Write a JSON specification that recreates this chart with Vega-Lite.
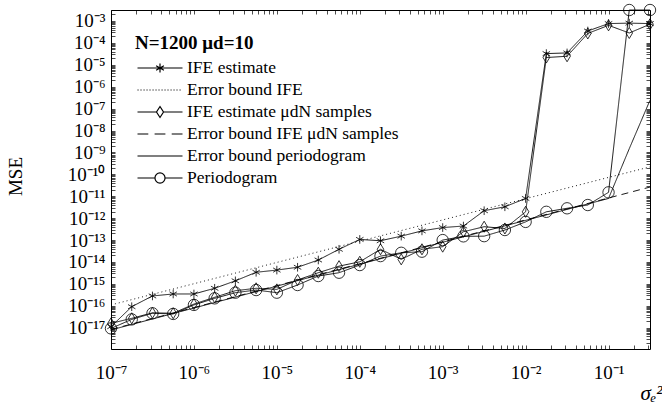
{
  "$schema": "https://vega.github.io/schema/vega-lite/v6.json",
  "width": 539,
  "height": 339,
  "autosize": {"type": "none"},
  "padding": {"left": 111, "top": 10, "right": 12, "bottom": 56},
  "config": {
    "view": {"stroke": "black", "strokeWidth": 1},
    "font": "Liberation Serif",
    "axis": {"grid": false, "domain": false, "tickColor": "black", "tickWidth": 0.7, "tickSize": 4, "offset": -4, "labelFont": "Liberation Serif", "labelFontSize": 19, "labelColor": "black", "titleFont": "Liberation Serif", "titleColor": "black", "titleFontWeight": "normal", "labelOverlap": false, "labelFlush": false},
    "legend": {"labelFont": "Liberation Serif", "titleFont": "Liberation Serif", "labelLimit": 400, "titleLimit": 400}
  },
  "data": {"values": [
    {"s":"IFE estimate","x":1e-7,"y":1.12e-17},{"s":"IFE estimate","x":1.778e-7,"y":9.12e-17},{"s":"IFE estimate","x":3.162e-7,"y":2.82e-16},{"s":"IFE estimate","x":5.623e-7,"y":3.47e-16},{"s":"IFE estimate","x":1e-6,"y":3.47e-16},{"s":"IFE estimate","x":1.778e-6,"y":6.31e-16},{"s":"IFE estimate","x":3.162e-6,"y":1.38e-15},{"s":"IFE estimate","x":5.623e-6,"y":3.39e-15},{"s":"IFE estimate","x":1e-5,"y":4.27e-15},{"s":"IFE estimate","x":1.778e-5,"y":5.75e-15},{"s":"IFE estimate","x":3.162e-5,"y":1.23e-14},{"s":"IFE estimate","x":5.623e-5,"y":3.80e-14},{"s":"IFE estimate","x":1e-4,"y":1.07e-13},{"s":"IFE estimate","x":1.778e-4,"y":9.33e-14},{"s":"IFE estimate","x":3.162e-4,"y":1.51e-13},{"s":"IFE estimate","x":5.623e-4,"y":2.63e-13},{"s":"IFE estimate","x":1e-3,"y":3.72e-13},{"s":"IFE estimate","x":1.778e-3,"y":4.37e-13},{"s":"IFE estimate","x":3.162e-3,"y":2.19e-12},{"s":"IFE estimate","x":5.623e-3,"y":3.31e-12},{"s":"IFE estimate","x":0.01,"y":7.94e-12},{"s":"IFE estimate","x":0.01778,"y":3.24e-5},{"s":"IFE estimate","x":0.03162,"y":3.47e-5},{"s":"IFE estimate","x":0.05623,"y":3.47e-4},{"s":"IFE estimate","x":0.1,"y":7.59e-4},{"s":"IFE estimate","x":0.1778,"y":7.94e-4},{"s":"IFE estimate","x":0.3162,"y":7.59e-4},

    {"s":"Error bound IFE","x":1e-7,"y":1.10e-16},{"s":"Error bound IFE","x":1e-6,"y":1.02e-15},{"s":"Error bound IFE","x":1e-5,"y":9.55e-15},{"s":"Error bound IFE","x":1e-4,"y":8.91e-14},{"s":"Error bound IFE","x":1e-3,"y":8.32e-13},{"s":"Error bound IFE","x":0.01,"y":7.76e-12},{"s":"Error bound IFE","x":0.1,"y":7.24e-11},{"s":"Error bound IFE","x":0.3162,"y":2.19e-10},

    {"s":"IFE estimate μdN samples","x":1e-7,"y":1.58e-17},{"s":"IFE estimate μdN samples","x":1.778e-7,"y":2.69e-17},{"s":"IFE estimate μdN samples","x":3.162e-7,"y":4.79e-17},{"s":"IFE estimate μdN samples","x":5.623e-7,"y":4.57e-17},{"s":"IFE estimate μdN samples","x":1e-6,"y":1.20e-16},{"s":"IFE estimate μdN samples","x":1.778e-6,"y":2.45e-16},{"s":"IFE estimate μdN samples","x":3.162e-6,"y":4.90e-16},{"s":"IFE estimate μdN samples","x":5.623e-6,"y":6.31e-16},{"s":"IFE estimate μdN samples","x":1e-5,"y":5.62e-16},{"s":"IFE estimate μdN samples","x":1.778e-5,"y":1.51e-15},{"s":"IFE estimate μdN samples","x":3.162e-5,"y":3.24e-15},{"s":"IFE estimate μdN samples","x":5.623e-5,"y":6.46e-15},{"s":"IFE estimate μdN samples","x":1e-4,"y":1.02e-14},{"s":"IFE estimate μdN samples","x":1.778e-4,"y":3.80e-14},{"s":"IFE estimate μdN samples","x":3.162e-4,"y":1.32e-14},{"s":"IFE estimate μdN samples","x":5.623e-4,"y":3.80e-14},{"s":"IFE estimate μdN samples","x":1e-3,"y":5.01e-14},{"s":"IFE estimate μdN samples","x":1.778e-3,"y":2.40e-13},{"s":"IFE estimate μdN samples","x":3.162e-3,"y":4.07e-13},{"s":"IFE estimate μdN samples","x":5.623e-3,"y":3.39e-13},{"s":"IFE estimate μdN samples","x":0.01,"y":1.95e-12},{"s":"IFE estimate μdN samples","x":0.01778,"y":2.14e-5},{"s":"IFE estimate μdN samples","x":0.03162,"y":2.45e-5},{"s":"IFE estimate μdN samples","x":0.05623,"y":2.69e-4},{"s":"IFE estimate μdN samples","x":0.1,"y":6.31e-4},{"s":"IFE estimate μdN samples","x":0.1778,"y":2.82e-4},{"s":"IFE estimate μdN samples","x":0.3162,"y":7.08e-4},

    {"s":"Error bound IFE μdN samples","x":1e-7,"y":8.32e-18},{"s":"Error bound IFE μdN samples","x":1e-6,"y":8.32e-17},{"s":"Error bound IFE μdN samples","x":1e-5,"y":8.32e-16},{"s":"Error bound IFE μdN samples","x":1e-4,"y":8.32e-15},{"s":"Error bound IFE μdN samples","x":1e-3,"y":8.32e-14},{"s":"Error bound IFE μdN samples","x":0.01,"y":8.32e-13},{"s":"Error bound IFE μdN samples","x":0.1,"y":8.32e-12},{"s":"Error bound IFE μdN samples","x":0.3162,"y":2.63e-11},

    {"s":"Error bound periodogram","x":1e-7,"y":7.94e-18},{"s":"Error bound periodogram","x":1e-6,"y":7.94e-17},{"s":"Error bound periodogram","x":1e-5,"y":7.94e-16},{"s":"Error bound periodogram","x":1e-4,"y":7.94e-15},{"s":"Error bound periodogram","x":1e-3,"y":7.94e-14},{"s":"Error bound periodogram","x":0.01,"y":7.94e-13},{"s":"Error bound periodogram","x":0.1,"y":7.94e-12},{"s":"Error bound periodogram","x":0.1778,"y":1.48e-9},{"s":"Error bound periodogram","x":0.3162,"y":2.40e-7},

    {"s":"Periodogram","x":1e-7,"y":9.33e-18},{"s":"Periodogram","x":1.778e-7,"y":2.40e-17},{"s":"Periodogram","x":3.162e-7,"y":4.57e-17},{"s":"Periodogram","x":5.623e-7,"y":4.27e-17},{"s":"Periodogram","x":1e-6,"y":1.10e-16},{"s":"Periodogram","x":1.778e-6,"y":2.19e-16},{"s":"Periodogram","x":3.162e-6,"y":3.98e-16},{"s":"Periodogram","x":5.623e-6,"y":5.25e-16},{"s":"Periodogram","x":1e-5,"y":3.98e-16},{"s":"Periodogram","x":1.778e-5,"y":8.91e-16},{"s":"Periodogram","x":3.162e-5,"y":2.29e-15},{"s":"Periodogram","x":5.623e-5,"y":3.24e-15},{"s":"Periodogram","x":1e-4,"y":7.24e-15},{"s":"Periodogram","x":1.778e-4,"y":1.86e-14},{"s":"Periodogram","x":3.162e-4,"y":2.63e-14},{"s":"Periodogram","x":5.623e-4,"y":2.95e-14},{"s":"Periodogram","x":1e-3,"y":1.0e-13},{"s":"Periodogram","x":1.778e-3,"y":1.48e-13},{"s":"Periodogram","x":3.162e-3,"y":1.51e-13},{"s":"Periodogram","x":5.623e-3,"y":2.88e-13},{"s":"Periodogram","x":0.01,"y":6.76e-13},{"s":"Periodogram","x":0.01778,"y":1.95e-12},{"s":"Periodogram","x":0.03162,"y":2.82e-12},{"s":"Periodogram","x":0.05623,"y":3.98e-12},{"s":"Periodogram","x":0.1,"y":1.51e-11},{"s":"Periodogram","x":0.1778,"y":3.16e-3},{"s":"Periodogram","x":0.3162,"y":3.16e-3}
  ]},
  "resolve": {"scale": {"x": "independent", "y": "independent", "shape": "independent"}, "axis": {"x": "independent", "y": "independent"}},
  "layer": [
    {
      "mark": {"type": "line", "stroke": "black", "strokeWidth": 0.9},
      "encoding": {
        "x": {"field": "x", "type": "quantitative", "scale": {"type": "log", "domain": [1e-7, 0.3162], "nice": false},
          "axis": {"orient": "bottom", "values": [1e-7,2e-7,3e-7,4e-7,5e-7,6e-7,7e-7,8e-7,9e-7,1e-6,2e-6,3e-6,4e-6,5e-6,6e-6,7e-6,8e-6,9e-6,1e-5,2e-5,3e-5,4e-5,5e-5,6e-5,7e-5,8e-5,9e-5,1e-4,2e-4,3e-4,4e-4,5e-4,6e-4,7e-4,8e-4,9e-4,1e-3,2e-3,3e-3,4e-3,5e-3,6e-3,7e-3,8e-3,9e-3,1e-2,2e-2,3e-2,4e-2,5e-2,6e-2,7e-2,8e-2,9e-2,0.1,0.2,0.3],
            "labelExpr": "abs(log(datum.value)/LN10 - round(log(datum.value)/LN10)) < 0.001 ? '10⁻' + (round(-log(datum.value)/LN10) >= 10 ? '¹' : '') + ['⁰','¹','²','³','⁴','⁵','⁶','⁷','⁸','⁹'][round(-log(datum.value)/LN10) % 10] : ''",
            "labelPadding": 14, "title": "σₑ²", "titleFontStyle": "italic", "titleFontSize": 21, "titleX": 540, "titleY": 48, "titleAlign": "center", "titleBaseline": "middle"}},
        "y": {"field": "y", "type": "quantitative", "scale": {"type": "log", "domain": [1.07e-18, 0.00316], "nice": false},
          "axis": {"orient": "left", "values": [2e-18,3e-18,4e-18,5e-18,6e-18,7e-18,8e-18,9e-18,1e-17,2e-17,3e-17,4e-17,5e-17,6e-17,7e-17,8e-17,9e-17,1e-16,2e-16,3e-16,4e-16,5e-16,6e-16,7e-16,8e-16,9e-16,1e-15,2e-15,3e-15,4e-15,5e-15,6e-15,7e-15,8e-15,9e-15,1e-14,2e-14,3e-14,4e-14,5e-14,6e-14,7e-14,8e-14,9e-14,1e-13,2e-13,3e-13,4e-13,5e-13,6e-13,7e-13,8e-13,9e-13,1e-12,2e-12,3e-12,4e-12,5e-12,6e-12,7e-12,8e-12,9e-12,1e-11,2e-11,3e-11,4e-11,5e-11,6e-11,7e-11,8e-11,9e-11,1e-10,2e-10,3e-10,4e-10,5e-10,6e-10,7e-10,8e-10,9e-10,1e-9,2e-9,3e-9,4e-9,5e-9,6e-9,7e-9,8e-9,9e-9,1e-8,2e-8,3e-8,4e-8,5e-8,6e-8,7e-8,8e-8,9e-8,1e-7,2e-7,3e-7,4e-7,5e-7,6e-7,7e-7,8e-7,9e-7,1e-6,2e-6,3e-6,4e-6,5e-6,6e-6,7e-6,8e-6,9e-6,1e-5,2e-5,3e-5,4e-5,5e-5,6e-5,7e-5,8e-5,9e-5,1e-4,2e-4,3e-4,4e-4,5e-4,6e-4,7e-4,8e-4,9e-4,1e-3,2e-3,3e-3],
            "labelExpr": "abs(log(datum.value)/LN10 - round(log(datum.value)/LN10)) < 0.001 ? '10⁻' + (round(-log(datum.value)/LN10) >= 10 ? '¹' : '') + ['⁰','¹','²','³','⁴','⁵','⁶','⁷','⁸','⁹'][round(-log(datum.value)/LN10) % 10] : ''",
            "labelPadding": 6, "title": "MSE", "titleFontSize": 19, "titleX": -100, "titleY": 166, "titleAlign": "center", "titleBaseline": "middle", "titleAngle": -90}},
        "detail": {"field": "s", "type": "nominal"},
        "strokeDash": {"field": "s", "type": "nominal", "legend": null,
          "scale": {"domain": ["IFE estimate","Error bound IFE","IFE estimate μdN samples","Error bound IFE μdN samples","Error bound periodogram","Periodogram"],
                    "range": [[1,0],[1,3],[1,0],[7,5],[1,0],[1,0]]}}
      }
    },
    {
      "transform": [{"filter": {"field": "s", "oneOf": ["IFE estimate","IFE estimate μdN samples","Periodogram"]}}],
      "mark": {"type": "point", "filled": false, "stroke": "black", "strokeWidth": 0.8, "size": 144, "clip": false, "opacity": 1},
      "encoding": {
        "x": {"field": "x", "type": "quantitative", "scale": {"type": "log", "domain": [1e-7, 0.3162], "nice": false},
          "axis": {"orient": "top", "labels": false, "title": null, "values": [1e-7,2e-7,3e-7,4e-7,5e-7,6e-7,7e-7,8e-7,9e-7,1e-6,2e-6,3e-6,4e-6,5e-6,6e-6,7e-6,8e-6,9e-6,1e-5,2e-5,3e-5,4e-5,5e-5,6e-5,7e-5,8e-5,9e-5,1e-4,2e-4,3e-4,4e-4,5e-4,6e-4,7e-4,8e-4,9e-4,1e-3,2e-3,3e-3,4e-3,5e-3,6e-3,7e-3,8e-3,9e-3,1e-2,2e-2,3e-2,4e-2,5e-2,6e-2,7e-2,8e-2,9e-2,0.1,0.2,0.3]}},
        "y": {"field": "y", "type": "quantitative", "scale": {"type": "log", "domain": [1.07e-18, 0.00316], "nice": false},
          "axis": {"orient": "right", "labels": false, "title": null, "values": [2e-18,3e-18,4e-18,5e-18,6e-18,7e-18,8e-18,9e-18,1e-17,2e-17,3e-17,4e-17,5e-17,6e-17,7e-17,8e-17,9e-17,1e-16,2e-16,3e-16,4e-16,5e-16,6e-16,7e-16,8e-16,9e-16,1e-15,2e-15,3e-15,4e-15,5e-15,6e-15,7e-15,8e-15,9e-15,1e-14,2e-14,3e-14,4e-14,5e-14,6e-14,7e-14,8e-14,9e-14,1e-13,2e-13,3e-13,4e-13,5e-13,6e-13,7e-13,8e-13,9e-13,1e-12,2e-12,3e-12,4e-12,5e-12,6e-12,7e-12,8e-12,9e-12,1e-11,2e-11,3e-11,4e-11,5e-11,6e-11,7e-11,8e-11,9e-11,1e-10,2e-10,3e-10,4e-10,5e-10,6e-10,7e-10,8e-10,9e-10,1e-9,2e-9,3e-9,4e-9,5e-9,6e-9,7e-9,8e-9,9e-9,1e-8,2e-8,3e-8,4e-8,5e-8,6e-8,7e-8,8e-8,9e-8,1e-7,2e-7,3e-7,4e-7,5e-7,6e-7,7e-7,8e-7,9e-7,1e-6,2e-6,3e-6,4e-6,5e-6,6e-6,7e-6,8e-6,9e-6,1e-5,2e-5,3e-5,4e-5,5e-5,6e-5,7e-5,8e-5,9e-5,1e-4,2e-4,3e-4,4e-4,5e-4,6e-4,7e-4,8e-4,9e-4,1e-3,2e-3,3e-3]}},
        "shape": {"field": "s", "type": "nominal", "legend": null,
          "scale": {"domain": ["IFE estimate","IFE estimate μdN samples","Periodogram"],
                    "range": ["M0,-0.72V0.72M-0.62,-0.36L0.62,0.36M-0.62,0.36L0.62,-0.36", "M0,-0.92L0.55,0L0,0.92L-0.55,0Z", "M0.95,0A0.95,0.95,0,1,1,-0.95,0A0.95,0.95,0,1,1,0.95,0Z"]}}
      }
    },
    {
      "transform": [{"filter": "datum.x < 0"}],
      "mark": {"type": "point", "filled": false, "strokeWidth": 1.2, "size": 324, "opacity": 1},
      "encoding": {
        "x": {"field": "x", "type": "quantitative", "scale": {"type": "log", "domain": [1e-7, 0.3162], "nice": false}, "axis": null},
        "y": {"field": "y", "type": "quantitative", "scale": {"type": "log", "domain": [1.07e-18, 0.00316], "nice": false}, "axis": null},
        "stroke": {"field": "s", "type": "nominal",
          "scale": {"domain": ["IFE estimate","Error bound IFE","IFE estimate μdN samples","Error bound IFE μdN samples","Error bound periodogram","Periodogram"],
                    "range": ["black","black","black","black","black","black"]},
          "legend": {"orient": "none", "legendX": 24, "legendY": 24, "title": "N=1200 μd=10", "titleFont": "Liberation Serif", "titleFontSize": 19, "titleFontWeight": "bold", "titleColor": "black", "titlePadding": 5,
            "labelFont": "Liberation Serif", "labelFontSize": 17.5, "labelColor": "black", "symbolSize": 324, "symbolStrokeWidth": 1.2, "symbolOpacity": 1, "symbolStrokeColor": "black", "symbolOffset": 15, "labelOffset": 17, "rowPadding": 3, "padding": 0}},
        "shape": {"field": "s", "type": "nominal",
          "scale": {"domain": ["IFE estimate","Error bound IFE","IFE estimate μdN samples","Error bound IFE μdN samples","Error bound periodogram","Periodogram"],
                    "range": [
                      "M-2.5,0H2.5M0,-0.5V0.5M-0.433,-0.25L0.433,0.25M-0.433,0.25L0.433,-0.25",
                      "M-2.5,0h0.12M-2.17,0h0.12M-1.83,0h0.12M-1.5,0h0.12M-1.17,0h0.12M-0.83,0h0.12M-0.5,0h0.12M-0.17,0h0.12M0.17,0h0.12M0.5,0h0.12M0.83,0h0.12M1.17,0h0.12M1.5,0h0.12M1.83,0h0.12M2.17,0h0.12",
                      "M-2.5,0H-0.39M0.39,0H2.5M0,-0.61L0.39,0L0,0.61L-0.39,0Z",
                      "M-2.5,0H-1.3M-0.6,0H0.6M1.3,0H2.5",
                      "M-2.5,0H2.5",
                      "M-2.5,0H-0.56M0.56,0H2.5M0.56,0A0.56,0.56,0,1,1,-0.56,0A0.56,0.56,0,1,1,0.56,0Z"
                    ]},
          "legend": {"orient": "none", "legendX": 24, "legendY": 24, "title": "N=1200 μd=10", "titleFont": "Liberation Serif", "titleFontSize": 19, "titleFontWeight": "bold", "titleColor": "black", "titlePadding": 5,
            "labelFont": "Liberation Serif", "labelFontSize": 17.5, "labelColor": "black", "symbolSize": 324, "symbolStrokeWidth": 1.2, "symbolOpacity": 1, "symbolStrokeColor": "black", "symbolOffset": 15, "labelOffset": 17, "rowPadding": 3, "padding": 0}
        }
      }
    }
  ]
}
